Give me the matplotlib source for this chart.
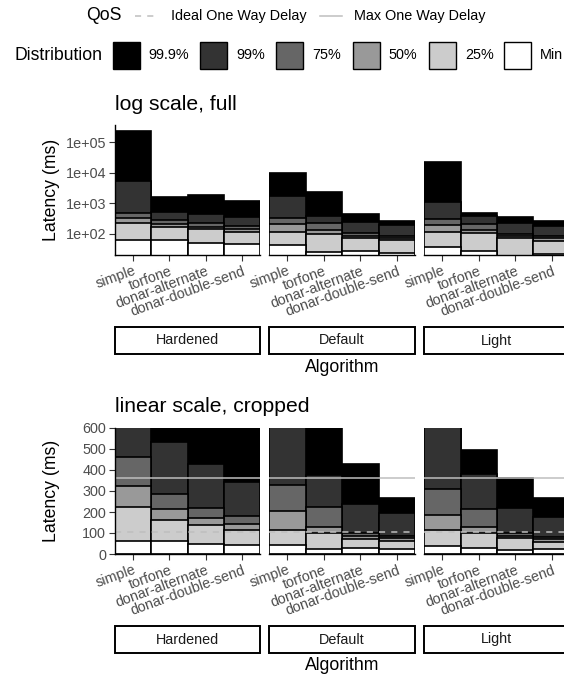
import matplotlib
matplotlib.use('Agg')
import matplotlib.pyplot as plt
from matplotlib.patches import Rectangle
from matplotlib.lines import Line2D

plt.rcParams['font.family'] = ['Liberation Sans', 'DejaVu Sans']

algorithms = ['simple', 'torfone', 'donar-alternate', 'donar-double-send']
variants = ['Hardened', 'Default', 'Light']
quantiles = ['99.9%', '99%', '75%', '50%', '25%', 'Min']
fills = ['#000000', '#333333', '#666666', '#999999', '#CCCCCC', '#FFFFFF']

# latency (ms) per quantile row, one value per algorithm
hardened = [
    [235000, 1640, 1870, 1180],
    [5500, 535, 430, 345],
    [464, 288, 218, 181],
    [326, 213, 170, 142],
    [223, 162, 138, 115],
    [60, 60, 48, 45],
]
default = [
    [10000, 2290, 430, 266],
    [1730, 377, 237, 194],
    [329, 226, 102, 87],
    [205, 130, 87, 75],
    [115, 99, 72, 62],
    [42, 25, 27, 24],
]
light = [
    [22000, 493, 360, 269],
    [1075, 382, 217, 178],
    [309, 213, 100, 83],
    [186, 130, 87, 70],
    [115, 102, 75, 56],
    [37, 27, 19, 22],
]
all_data = [hardened, default, light]

qos_ideal = 107
qos_max = 360
log_ticks = [100, 1000, 10000, 100000]
log_labels = ['1e+02', '1e+03', '1e+04', '1e+05']
lin_ticks = [0, 100, 200, 300, 400, 500, 600]

W, H = 564, 677
fig = plt.figure(figsize=(W / 100, H / 100), dpi=100)

ov = fig.add_axes([0, 0, 1, 1])
ov.set_xlim(0, W)
ov.set_ylim(H, 0)
ov.axis('off')

def px_axes(x0, y0, x1, y1):
    return fig.add_axes([x0 / W, 1 - y1 / H, (x1 - x0) / W, (y1 - y0) / H])

panel_x = [(115, 260), (269, 415), (424, 570)]
rows = [(125, 255, True), (428, 554, False)]
tick_col = '#4D4D4D'


def draw_panel(ax, data, log, first):
    base = 1 if log else 0
    xs = range(len(algorithms))
    for vals, col in zip(data, fills):
        ax.bar(xs, [v - base for v in vals], bottom=base, width=1,
               color=col, edgecolor='black', linewidth=1.2)
    ax.set_xlim(-0.5, 3.5)
    if log:
        ax.set_yscale('log')
        ax.set_ylim(20, 370000)
        ax.set_yticks(log_ticks)
        ax.set_yticklabels(log_labels)
        ax.minorticks_off()
    else:
        ax.set_ylim(0, 600)
        ax.set_yticks(lin_ticks)
        ax.axhline(qos_max, color='#BEBEBE', lw=1.1)
        ax.axhline(qos_ideal, color='#BEBEBE', lw=1.1, ls=(0, (4, 4)))
    ax.set_xticks(list(xs))
    ax.set_xticklabels(algorithms, rotation=20, ha='right', va='top',
                       rotation_mode='anchor')
    ax.spines[['top', 'right']].set_visible(False)
    ax.spines['bottom'].set_linewidth(1.0)
    ax.spines['left'].set_linewidth(1.0)
    ax.tick_params(length=4, width=0.8, color='#333333', labelcolor=tick_col,
                   labelsize=10.4, pad=2.5)
    if not first:
        ax.spines['left'].set_visible(False)
        ax.tick_params(left=False, labelleft=False)


for (y0, y1, log) in rows:
    for i, (x0, x1) in enumerate(panel_x):
        ax = px_axes(x0, y0, x1, y1)
        draw_panel(ax, all_data[i], log, i == 0)

# titles and axis labels
ov.text(115, 105, 'log scale, full', fontsize=15.2, va='center', ha='left')
ov.text(115, 406, 'linear scale, cropped', fontsize=15.2, va='center', ha='left')
ov.text(52, 190, 'Latency (ms)', fontsize=12.7, rotation=90, va='center', ha='center')
ov.text(52, 491, 'Latency (ms)', fontsize=12.7, rotation=90, va='center', ha='center')

# strips and x titles
for sy, ty in [(327, 367), (626, 665)]:
    for (x0, x1), name in zip(panel_x, variants):
        ov.add_patch(Rectangle((x0, sy), x1 - x0, 27, facecolor='white',
                               edgecolor='black', lw=1.4))
        ov.text((x0 + x1) / 2, sy + 13.5, name, fontsize=10.4, color='#1A1A1A',
                ha='center', va='center')
    ov.text(342, ty, 'Algorithm', fontsize=12.7, ha='center', va='center')

# legend: QoS
ov.text(86, 16, 'QoS', fontsize=12.7, va='center', ha='left')
ov.add_line(Line2D([135, 158], [16, 16], color='#BEBEBE', lw=1.1, ls=(0, (4, 4))))
ov.text(171, 16, 'Ideal One Way Delay', fontsize=10.4, va='center', ha='left')
ov.add_line(Line2D([320, 342], [16, 16], color='#BEBEBE', lw=1.1))
ov.text(354, 16, 'Max One Way Delay', fontsize=10.4, va='center', ha='left')

# legend: Distribution
ov.text(14, 55, 'Distribution', fontsize=12.7, va='center', ha='left')
box_left = [112.5, 200, 276, 352.5, 429, 504]
for bx, q, col in zip(box_left, quantiles, fills):
    ov.add_patch(Rectangle((bx, 41.5), 27, 27, facecolor=col,
                           edgecolor='black', lw=1.0))
    ov.text(bx + 36, 55, q, fontsize=10.4, va='center', ha='left')

fig.savefig('out.png', dpi=100)
